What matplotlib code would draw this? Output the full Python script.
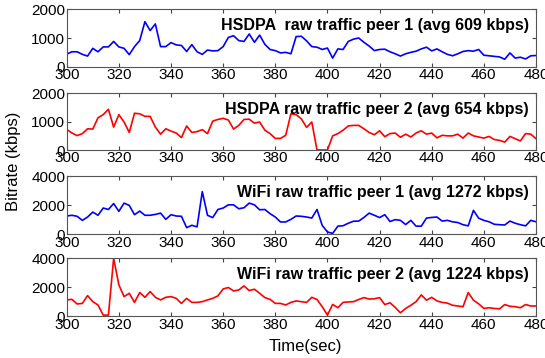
import numpy as np
import matplotlib
matplotlib.use("Agg")
import matplotlib.pyplot as plt

plt.rcParams["font.family"] = ["Liberation Sans", "DejaVu Sans"]

# Time axis (sec), one sample every 2 s
t = np.arange(300, 481, 2)

hsdpa1 = [440, 520, 520, 430, 370, 640, 520, 690, 690, 880, 690, 640, 420, 700, 910,
          1570, 1260, 1490, 700, 700, 840, 760, 740, 530, 770, 520, 430, 580, 550, 560,
          700, 1020, 1080, 910, 880, 1140, 850, 1100, 780, 600, 560, 480, 500, 450,
          1050, 1060, 900, 700, 680, 600, 650, 300, 620, 600, 880, 960, 1000, 850, 720,
          560, 600, 610, 520, 450, 370, 450, 500, 540, 620, 680, 550, 620, 520, 430, 380,
          450, 530, 560, 540, 600, 400, 380, 360, 340, 260, 480, 300, 330, 270, 380, 390]

hsdpa2 = [730, 600, 510, 580, 750, 740, 1140, 1250, 1440, 810, 1250, 990, 620, 1300, 1280,
          1190, 1190, 810, 560, 750, 670, 600, 440, 850, 620, 650, 720, 580, 1020, 1080,
          1120, 1060, 740, 870, 1080, 1090, 950, 990, 700, 580, 410, 410, 520, 1280,
          1250, 1100, 800, 990, 0, 0, 0, 500, 580, 700, 850, 870, 870, 750, 620,
          540, 680, 470, 580, 600, 450, 560, 460, 600, 680, 560, 600, 430, 520, 500, 500,
          560, 420, 600, 500, 460, 420, 480, 370, 340, 280, 480, 400, 320, 580, 560, 400]

wifi1 = [1250, 1300, 1230, 950, 1180, 1520, 1300, 1800, 1700, 2110, 1570, 2140, 1980, 1340, 1590,
         1300, 1300, 1360, 1450, 1020, 1340, 1250, 1230, 450, 610, 500, 2930, 1300, 1140, 1700,
         1800, 2020, 2020, 1750, 1820, 2140, 2020, 1680, 1700, 1410, 1180, 840, 840, 1020,
         1250, 1230, 1180, 1110, 1700, 600, 150, 50, 550, 580, 750, 890, 900, 1150, 1450,
         1300, 1140, 1340, 870, 1000, 950, 660, 950, 550, 550, 1110, 1150, 1180, 900, 950, 850,
         800, 650, 570, 1640, 1100, 950, 850, 680, 650, 630, 900, 750, 650, 570, 950, 850]

wifi2 = [1120, 1160, 840, 880, 1420, 1000, 770, 70, 70, 4000, 2160, 1350, 1580, 950, 1630,
         1300, 1700, 1300, 1120, 1300, 1350, 1230, 880, 1230, 950, 950, 1000, 1120, 1230, 1400,
         1880, 1980, 1740, 1810, 2090, 1770, 1860, 1580, 1280, 1160, 880, 880, 770, 950,
         1050, 1000, 950, 1300, 1150, 650, 70, 810, 580, 950, 980, 1000, 1150, 1280, 1180,
         1200, 1280, 800, 920, 600, 230, 530, 750, 1000, 1470, 1100, 1300, 1050, 950, 900, 750,
         700, 650, 1630, 1100, 850, 530, 580, 530, 500, 800, 680, 650, 580, 800, 700, 700]

series = [hsdpa1, hsdpa2, wifi1, wifi2]
colors = ["#0000ff", "#ff0000", "#0000ff", "#ff0000"]
labels = ["HSDPA  raw traffic peer 1 (avg 609 kbps)",
          "HSDPA raw traffic peer 2 (avg 654 kbps)",
          "WiFi raw traffic peer 1 (avg 1272 kbps)",
          "WiFi raw traffic peer 2 (avg 1224 kbps)"]
ymax = [2000, 2000, 4000, 4000]
yticks = [[0, 1000, 2000], [0, 1000, 2000], [0, 2000, 4000], [0, 2000, 4000]]
xticks = [300, 320, 340, 360, 380, 400, 420, 440, 460, 480]

fig = plt.figure(figsize=(5.45, 3.58), dpi=100)

# axes boxes: (bottom, top) in figure fraction
boxes = [(0.8137, 0.974), (0.581, 0.739), (0.346, 0.508), (0.117, 0.2785)]
left, right = 0.1224, 0.9835

for i in range(4):
    b, tp = boxes[i]
    ax = fig.add_axes([left, b, right - left, tp - b])
    ax.plot(t, series[i], color=colors[i], linewidth=1.2)
    ax.set_xlim(300, 480)
    ax.set_ylim(0, ymax[i])
    ax.set_xticks(xticks)
    ax.set_yticks(yticks[i])
    ax.tick_params(direction="in", top=True, right=True, length=3,
                   labelsize=11, pad=1, color="#444444")
    for s in ax.spines.values():
        s.set_color("#555555")
        s.set_linewidth(0.8)
    ax.text(0.985, 0.72, labels[i], transform=ax.transAxes, ha="right", va="center",
            fontsize=11.5, fontweight="bold")

fig.text(0.024, 0.55, "Bitrate (kbps)", rotation=90, ha="center", va="center", fontsize=12)
fig.text(0.56, 0.032, "Time(sec)", ha="center", va="center", fontsize=12)

fig.savefig("out.png", dpi=100)
